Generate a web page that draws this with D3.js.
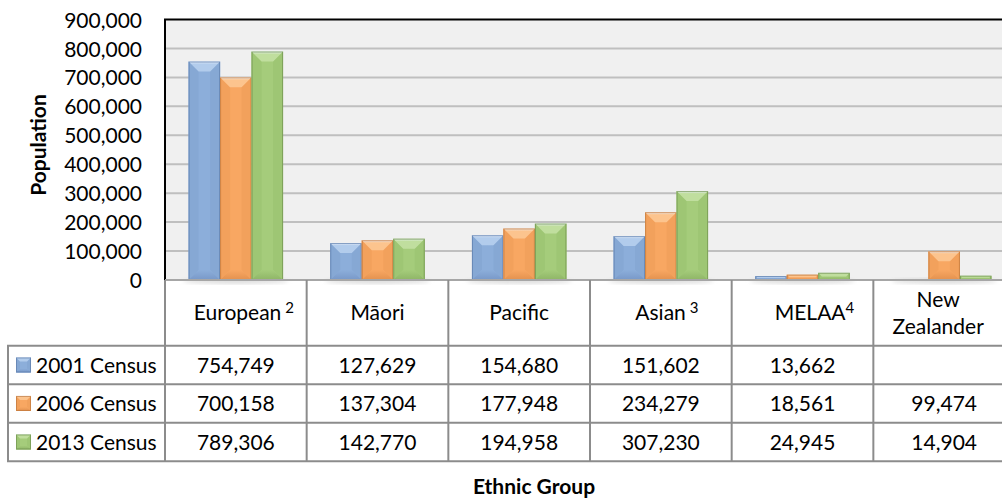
<!DOCTYPE html>
<html>
<head>
<meta charset="utf-8">
<script src="https://cdn.jsdelivr.net/npm/d3@7"></script>
<style>
  html, body { margin: 0; padding: 0; background: #ffffff; }
  svg { display: block; }
  text { font-family: Lato, "Open Sans", sans-serif; fill: #000; }
</style>
</head>
<body>
<svg id="chart" width="1002" height="499"></svg>
<script>
// ---- data ----
const categories = ["European", "Māori", "Pacific", "Asian", "MELAA", "New Zealander"];
const categorySuperscripts = ["2", "", "", "3", "4", ""];
const seriesNames = ["2001 Census", "2006 Census", "2013 Census"];
const census2001 = [754749, 127629, 154680, 151602, 13662, null];
const census2006 = [700158, 137304, 177948, 234279, 18561, 99474];
const census2013 = [789306, 142770, 194958, 307230, 24945, 14904];
const yTicks = [0, 100000, 200000, 300000, 400000, 500000, 600000, 700000, 800000, 900000];
const yTitle = "Population";
const xTitle = "Ethnic Group";

const seriesValues = [census2001, census2006, census2013];

// ---- styles ----
const palette = [
  { main: "#8CAEDA", top: "#B2CCEC", bottom: "#7898C8", side: "#86A8D4", line: "#5F7FAE" },
  { main: "#F8A762", top: "#FCC48E", bottom: "#E3914E", side: "#F2A15C", line: "#C27A3E" },
  { main: "#A5CC7B", top: "#C0DE9E", bottom: "#8EB566", side: "#9EC674", line: "#739652" }
];
const FS = 21;
const headerNudge = [8, 0, 0, 6, 12, -6];

const svg = d3.select("#chart");

const plotLeft = 165, plotTop = 19.5, plotBottom = 280;
const colW = 141.67;
const plotRight = plotLeft + colW * categories.length;
const headerBottom = 345.7, rowH = 38.5;
const tableLeft = 8;

const x = d3.scaleBand().domain(categories).range([plotLeft, plotRight]).padding(0);
const xs = d3.scaleBand().domain(seriesNames).range([0, x.bandwidth()]).paddingInner(0).paddingOuter(0.75);
const y = d3.scaleLinear().domain([0, 900000]).range([plotBottom, plotTop]);

// plot background
svg.append("rect").attr("x", plotLeft).attr("y", plotTop).attr("width", plotRight - plotLeft)
  .attr("height", plotBottom - plotTop).attr("fill", "#F0F0F0");

// gridlines
svg.append("g").selectAll("line").data(yTicks.filter(d => d > 0 && d < 900000)).join("line")
  .attr("x1", plotLeft).attr("x2", plotRight)
  .attr("y1", d => y(d)).attr("y2", d => y(d))
  .attr("stroke", "#BFBFBF").attr("stroke-width", 2);

// y axis labels
const yAxis = d3.axisLeft(y).tickValues(yTicks).tickFormat(d3.format(",")).tickSize(0).tickPadding(0);
const gy = svg.append("g").attr("transform", `translate(${plotLeft - 23},0)`).call(yAxis);
gy.select(".domain").remove();
gy.selectAll("text").attr("font-size", FS).attr("font-family", "Lato, sans-serif").attr("fill", "#000").attr("dy", "0.36em");

// defs for gradients
const defs = svg.append("defs");
palette.forEach((p, i) => {
  const g = defs.append("linearGradient").attr("id", "topg" + i).attr("x1", 0).attr("x2", 0).attr("y1", 0).attr("y2", 1);
  g.append("stop").attr("offset", 0).attr("stop-color", "#eef5ff");
  g.append("stop").attr("offset", 0.25).attr("stop-color", p.top);
  g.append("stop").attr("offset", 1).attr("stop-color", p.top);
  const b = defs.append("linearGradient").attr("id", "botg" + i).attr("x1", 0).attr("x2", 0).attr("y1", 0).attr("y2", 1);
  b.append("stop").attr("offset", 0).attr("stop-color", p.main);
  b.append("stop").attr("offset", 1).attr("stop-color", p.bottom);
});
// soft shadow filter
const f = defs.append("filter").attr("id", "shadow").attr("x", "-20%").attr("y", "-20%").attr("width", "140%").attr("height", "140%");
f.append("feGaussianBlur").attr("stdDeviation", 2);

function bevelBar(g, x0, y0, w, h, p, i, bMax) {
  if (h <= 0) return;
  const b = Math.min(bMax, w / 2, h / 2);
  g.append("rect").attr("x", x0).attr("y", y0).attr("width", w).attr("height", h).attr("fill", p.main);
  g.append("polygon").attr("points", [[x0, y0], [x0 + b, y0 + b], [x0 + b, y0 + h - b], [x0, y0 + h]].join(" ")).attr("fill", p.side);
  g.append("polygon").attr("points", [[x0 + w, y0], [x0 + w - b, y0 + b], [x0 + w - b, y0 + h - b], [x0 + w, y0 + h]].join(" ")).attr("fill", p.side);
  g.append("polygon").attr("points", [[x0, y0 + h], [x0 + w, y0 + h], [x0 + w - b, y0 + h - b], [x0 + b, y0 + h - b]].join(" ")).attr("fill", `url(#botg${i})`);
  g.append("polygon").attr("points", [[x0, y0], [x0 + w, y0], [x0 + w - b, y0 + b], [x0 + b, y0 + b]].join(" ")).attr("fill", `url(#topg${i})`);
  g.append("rect").attr("x", x0 + 0.5).attr("y", y0 + 0.5).attr("width", Math.max(0, w - 1)).attr("height", Math.max(0, h - 1))
    .attr("fill", "none").attr("stroke", p.line).attr("stroke-opacity", 0.75).attr("stroke-width", 1);
}

// bar shadows on the table header
const shadowG = svg.append("g").attr("filter", "url(#shadow)");

// bars
const barsG = svg.append("g");
seriesValues.forEach((vals, si) => {
  vals.forEach((v, ci) => {
    if (v == null) return;
    const x0 = x(categories[ci]) + xs(seriesNames[si]);
    const w = xs.bandwidth();
    const y0 = y(v);
    const h = y(0) - y(v);
    bevelBar(barsG.append("g"), x0, y0, w, h, palette[si], si, 10);
  });
});

// plot frame: top (black), left axis (black)
svg.append("line").attr("x1", plotLeft - 1).attr("x2", plotRight).attr("y1", plotTop).attr("y2", plotTop)
  .attr("stroke", "#000").attr("stroke-width", 2);
svg.append("line").attr("x1", plotLeft).attr("x2", plotLeft).attr("y1", plotTop).attr("y2", plotBottom)
  .attr("stroke", "#000").attr("stroke-width", 2);

// ---- data table ----
const tableG = svg.append("g");
const tableBottom = headerBottom + rowH * seriesNames.length;
const gridCol = "#8C8C8C";
// soft shadow under each bar group
categories.forEach((c) => {
  shadowG.append("ellipse").attr("cx", x(c) + x.bandwidth() / 2).attr("cy", plotBottom + 1)
    .attr("rx", x.bandwidth() / 2 - 18).attr("ry", 2.5).attr("fill", "#d8d8d8");
});
// baseline / header top
tableG.append("line").attr("x1", plotLeft).attr("x2", plotRight).attr("y1", plotBottom).attr("y2", plotBottom)
  .attr("stroke", "#A6A6A6").attr("stroke-width", 2);
// vertical lines for category columns
tableG.selectAll("line.v").data(categories).join("line").attr("class", "v")
  .attr("x1", d => x(d)).attr("x2", d => x(d))
  .attr("y1", plotBottom).attr("y2", tableBottom)
  .attr("stroke", gridCol).attr("stroke-width", 2);
// left column border
tableG.append("line").attr("x1", tableLeft).attr("x2", tableLeft).attr("y1", headerBottom).attr("y2", tableBottom)
  .attr("stroke", gridCol).attr("stroke-width", 2);
// horizontal row lines
d3.range(seriesNames.length + 1).forEach(r => {
  tableG.append("line").attr("x1", tableLeft - 1).attr("x2", plotRight)
    .attr("y1", headerBottom + r * rowH).attr("y2", headerBottom + r * rowH)
    .attr("stroke", gridCol).attr("stroke-width", 2);
});

// header labels
categories.forEach((c, ci) => {
  const cx = x(c) + x.bandwidth() / 2 + headerNudge[ci];
  const cy = (plotBottom + headerBottom) / 2;
  const words = c === "New Zealander" ? ["New", "Zealander"] : [c];
  if (words.length === 1) {
    const t = tableG.append("text").attr("x", cx).attr("y", cy).attr("dy", "0.36em")
      .attr("text-anchor", "middle").attr("font-size", FS).attr("xml:space", "preserve");
    t.append("tspan").text(c);
    if (categorySuperscripts[ci]) {
      const sp = (c === "MELAA") ? "" : " ";
      t.append("tspan").attr("font-size", 15).attr("baseline-shift", "7").text(sp + categorySuperscripts[ci]);
    }
  } else {
    words.forEach((wd, wi) => {
      tableG.append("text").attr("x", cx).attr("y", cy + (wi - 0.5) * 27).attr("dy", "0.36em")
        .attr("text-anchor", "middle").attr("font-size", FS).text(wd);
    });
  }
});

// rows: legend key + values
seriesNames.forEach((s, si) => {
  const rowMid = headerBottom + si * rowH + rowH / 2;
  bevelBar(tableG.append("g"), 16, rowMid - 7.5, 15, 15, palette[si], si, 4);
  tableG.append("text").attr("x", 36).attr("y", rowMid).attr("dy", "0.36em").attr("font-size", FS).text(s);
  seriesValues[si].forEach((v, ci) => {
    if (v == null) return;
    tableG.append("text").attr("x", x(categories[ci]) + x.bandwidth() / 2).attr("y", rowMid).attr("dy", "0.36em")
      .attr("text-anchor", "middle").attr("font-size", FS).text(d3.format(",")(v));
  });
});

// axis titles
svg.append("text").attr("transform", `translate(38.5,145) rotate(-90)`).attr("text-anchor", "middle")
  .attr("dy", "0.36em").attr("font-size", FS).attr("font-weight", "bold").text(yTitle);
svg.append("text").attr("x", 534).attr("y", 486).attr("text-anchor", "middle")
  .attr("dy", "0.36em").attr("font-size", FS).attr("font-weight", "bold").text(xTitle);
</script>
</body>
</html>
